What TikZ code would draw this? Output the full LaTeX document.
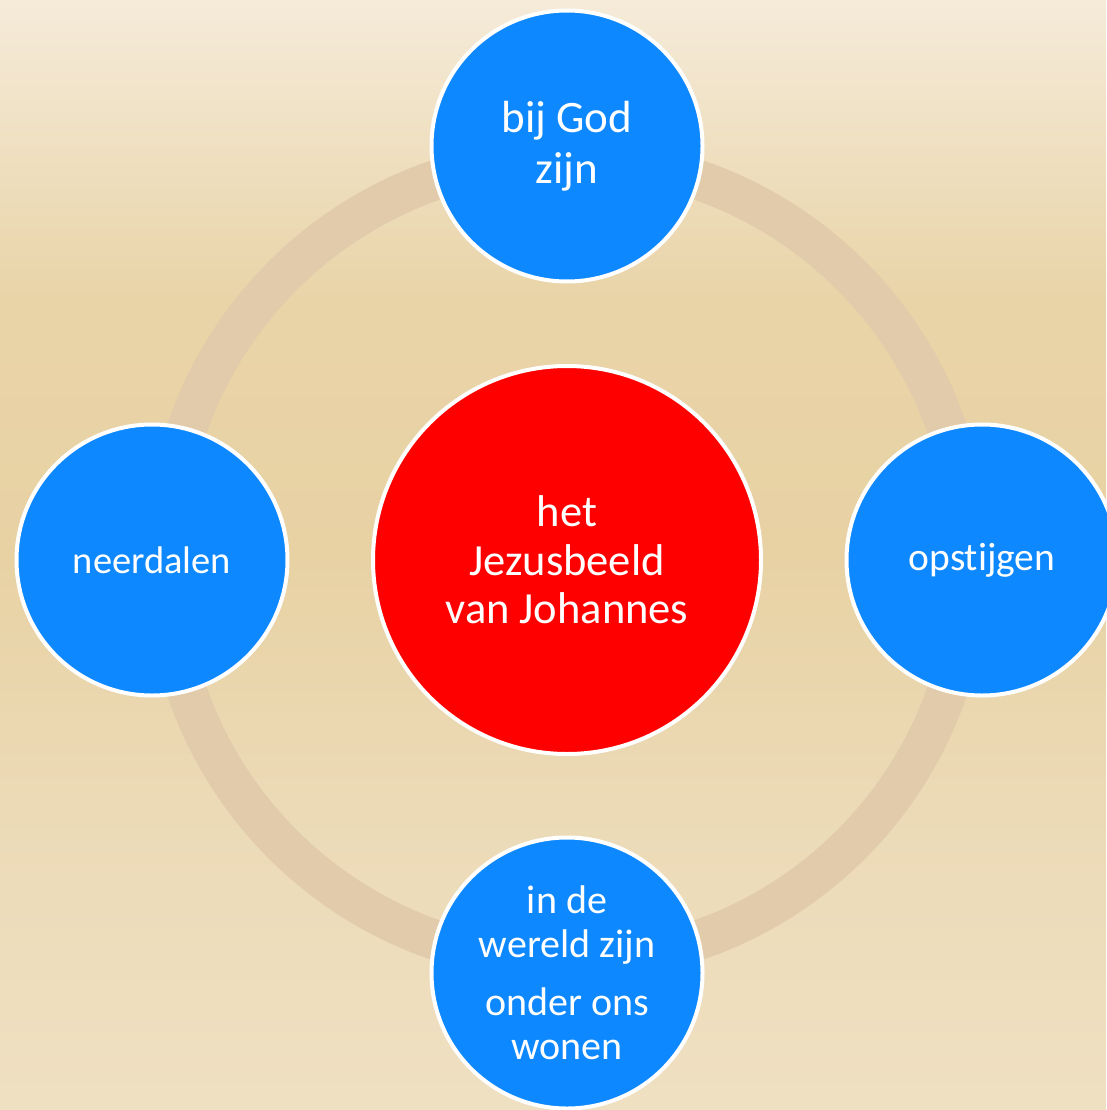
\documentclass[tikz,border=0pt]{standalone}
\usepackage{fontspec}
\setmainfont{Carlito}[Ligatures=NoCommon]
\definecolor{bgtop}{HTML}{F5EBD9}
\definecolor{bgup}{HTML}{E9D4A8}
\definecolor{bgmid}{HTML}{E8D2A4}
\definecolor{bglow}{HTML}{ECDAB6}
\definecolor{bgbot}{HTML}{EFE0C2}
\definecolor{ringc}{HTML}{E1CBAB}
\definecolor{blueb}{HTML}{0D88FF}
\definecolor{redc}{HTML}{FF0000}
\pgfdeclareverticalshading{bgshade}{100bp}{%
  color(0bp)=(bgbot); color(25bp)=(bgbot); color(39bp)=(bglow);
  color(50bp)=(bgmid); color(61.5bp)=(bgup); color(75bp)=(bgtop); color(100bp)=(bgtop)}
\tikzset{
  bubble/.style={circle, draw=white, line width=4pt, fill=blueb, text=white,
    minimum size=271pt, inner sep=0pt, align=center,
    font=\fontsize{39}{48}\selectfont},
  hub/.style={circle, draw=white, line width=4pt, fill=redc, text=white,
    minimum size=388pt, inner sep=0pt, align=center,
    font=\fontsize{44.5}{48.5}\selectfont},
}
\begin{document}
\begin{tikzpicture}[x=1pt,y=-1pt]
\useasboundingbox (0,0) rectangle (1106,1110);
\shade[shading=bgshade] (0,0) rectangle (1106,1110);
\coordinate (c) at (567,560);
\draw[ringc, line width=40pt] (c) circle[radius=402pt];
\node[hub] (center) at (c) {het\\Jezusbeeld\\van Johannes};
\node[bubble, font=\fontsize{45}{51}\selectfont] (top) at (567,146) {bij God\\zijn};
\node[bubble, font=\fontsize{38.5}{46}\selectfont] (left) at (152,560) {neerdalen};
\node[bubble, font=\fontsize{39.5}{46}\selectfont] (right) at (982,560) {opstijgen};
\node[bubble, font=\fontsize{40}{44}\selectfont] (bottom) at (567,973) {in de\\wereld zijn\\[14pt]onder ons\\wonen};
\end{tikzpicture}
\end{document}
